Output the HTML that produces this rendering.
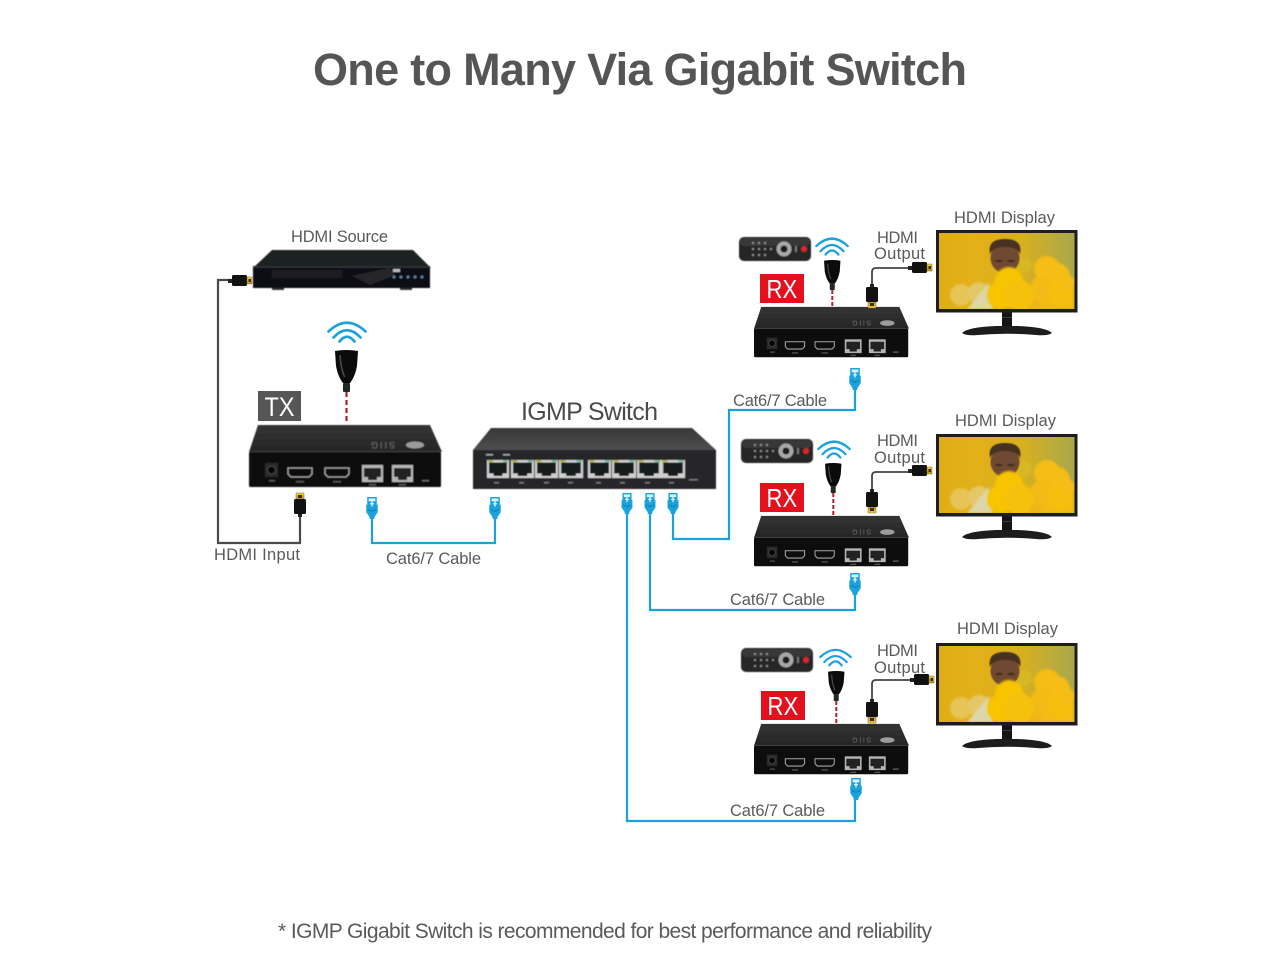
<!DOCTYPE html>
<html><head><meta charset="utf-8"><title>One to Many Via Gigabit Switch</title>
<style>html,body{margin:0;padding:0;background:#fff}svg{display:block}text{font-family:"Liberation Sans",sans-serif;fill:#5a5a5a}</style>
</head><body>
<svg width="1280" height="960" viewBox="0 0 1280 960" xmlns="http://www.w3.org/2000/svg">
<defs>
<linearGradient id="top" x1="0" y1="0" x2="0" y2="1"><stop offset="0" stop-color="#343434"/><stop offset="1" stop-color="#262626"/></linearGradient>
<linearGradient id="swtop" x1="0" y1="0" x2="0" y2="1"><stop offset="0" stop-color="#383838"/><stop offset="1" stop-color="#4e4e4e"/></linearGradient>
<linearGradient id="scr" x1="0" y1="0" x2="1" y2="0"><stop offset="0" stop-color="#e0ae14"/><stop offset=".3" stop-color="#e2b018"/><stop offset=".62" stop-color="#d6b020"/><stop offset="1" stop-color="#a9a84c"/></linearGradient>
<linearGradient id="gold" x1="0" y1="0" x2="0" y2="1"><stop offset="0" stop-color="#f2d34a"/><stop offset="1" stop-color="#b98f1e"/></linearGradient>
<filter id="b1" x="-20%" y="-20%" width="140%" height="140%"><feGaussianBlur stdDeviation="1"/></filter>
<filter id="b0" x="-20%" y="-20%" width="140%" height="140%"><feGaussianBlur stdDeviation=".45"/></filter>

<symbol id="box" viewBox="0 0 193 64" preserveAspectRatio="none" overflow="visible">
<g filter="url(#b0)">
<polygon points="9,1 181,1 193,28 0,28" fill="url(#top)"/>
<rect x="0" y="28" width="192" height="35" rx="1.500" fill="#101010"/>
<rect x="0" y="27" width="192" height="1.200" fill="#3d3d3d"/>
<ellipse cx="166" cy="21" rx="9" ry="3.500" fill="#9c9c9c"/>
<g transform="rotate(180 134 21)"><text x="134" y="24" font-size="9" text-anchor="middle" textLength="24" style="fill:#6e6e6e">SIIG</text></g>
<rect x="16" y="39" width="13" height="14" fill="#2b2b2b"/><circle cx="22.500" cy="46" r="4" fill="#000" stroke="#4a4a4a"/>
<path d="M39 44h24v6l-3 3H42l-3-3z" fill="#0a0a0a" stroke="#a5a5a5" stroke-width="1.300"/>
<path d="M76 44h24v6l-3 3H79l-3-3z" fill="#0a0a0a" stroke="#a5a5a5" stroke-width="1.300"/>
<rect x="113" y="41" width="21" height="17" fill="#b4b4b4"/><path d="M115 44h17v9h-4v3h-9v-3h-4z" fill="#222"/>
<rect x="143" y="41" width="21" height="17" fill="#b4b4b4"/><path d="M145 44h17v9h-4v3h-9v-3h-4z" fill="#222"/>
<rect x="173" y="56" width="7" height="1.500" fill="#666"/>
<rect x="20" y="56" width="6" height="1.500" fill="#555"/><rect x="47" y="57" width="8" height="1.500" fill="#555"/><rect x="84" y="57" width="8" height="1.500" fill="#555"/><rect x="120" y="60" width="7" height="1.500" fill="#555"/><rect x="150" y="60" width="7" height="1.500" fill="#555"/>
</g>
</symbol>

<symbol id="blue" viewBox="0 0 12 23" overflow="visible">
<path d="M1 0h10v8h1v8l-3.500 5v2h-5v-2L0 16V8h1z" fill="#1ba2da"/>
<rect x="2.500" y="1.500" width="7" height="3" fill="#d9f1fb"/>
<path d="M6 4v6M4 7h4" stroke="#e9f8ff" stroke-width="1.300"/>
<path d="M1.500 13l4.500 2 4.500-2" stroke="#0c7eb1" fill="none"/>
</symbol>

<symbol id="plugV" viewBox="0 0 12 24" overflow="visible">
<path d="M2 0h8v6.500H2z" fill="url(#gold)" stroke="#8b6d12" stroke-width=".5"/>
<rect x="4" y="2" width="4" height="3" fill="#3a2f08"/>
<rect x="0" y="6" width="12" height="15" rx="1.500" fill="#111"/><rect x="4" y="21" width="4" height="3" fill="#222"/>
</symbol>

<symbol id="plugH" viewBox="0 0 24 12" overflow="visible">
<rect x="0" y="4" width="5" height="4" fill="#222"/><rect x="4" y="0" width="15" height="11" rx="1.500" fill="#111"/>
<path d="M19 2h5v7h-5z" fill="url(#gold)" stroke="#8b6d12" stroke-width=".5"/><rect x="20.500" y="4" width="2.500" height="3" fill="#3a2f08"/>
</symbol>

<symbol id="remote" viewBox="0 0 72 24" overflow="visible">
<g filter="url(#b0)">
<rect x="0" y="0" width="72" height="24" rx="5" fill="#252525"/><rect x="1" y="1" width="70" height="8" rx="4" fill="#383838"/>
<circle cx="45" cy="12" r="7.500" fill="#a8a8a8"/><circle cx="45" cy="12" r="3.500" fill="#1a1a1a"/>
<circle cx="65" cy="12" r="3" fill="#d9262e"/><rect x="56" y="9" width="2" height="6" fill="#777"/>
<g fill="#8c8c8c"><rect x="13" y="5" width="2" height="2"/><rect x="19" y="5" width="2" height="2"/><rect x="25" y="5" width="2" height="2"/><rect x="13" y="11" width="2" height="2"/><rect x="19" y="11" width="2" height="2"/><rect x="25" y="11" width="2" height="2"/><rect x="31" y="11" width="2" height="2"/><rect x="13" y="17" width="2" height="2"/><rect x="19" y="17" width="2" height="2"/><rect x="25" y="17" width="2" height="2"/></g>
</g>
</symbol>

<symbol id="wifi" viewBox="0 0 40 20" overflow="visible">
<g fill="none" stroke="#1ba2da" stroke-width="2.700" stroke-linecap="round">
<path d="M1.500 9.500Q20-8 38.500 9.500"/>
<path d="M6.500 15.500Q20 1 33.500 15.500"/>
<path d="M12.500 19.500Q20 10 27.500 19.500"/>
</g>
</symbol>

<symbol id="dongle" viewBox="0 0 23 42" overflow="visible">
<path d="M0 1Q11.500-1 23 1L22 16Q20 27 15 33H8Q3 27 1 16z" fill="#0b0b0b"/>
<path d="M5 5Q5.500 17 9.500 27" stroke="#4a4a4a" stroke-width="1.600" fill="none"/>
<rect x="8" y="33" width="7" height="9" rx="1" fill="#1f2a22"/>
</symbol>

<symbol id="mon" viewBox="0 0 142 106" overflow="visible">
<rect x="66" y="80" width="10" height="19" fill="#151515"/>
<rect x="66" y="87" width="10" height="1" fill="#3a3a3a"/>
<path d="M26 103Q32 97 60 96H82Q110 97 116 103Q112 106 100 105Q71 102.500 42 105Q30 106 26 103z" fill="#1d1d1d"/>
<rect x="0" y="0" width="141.500" height="82.500" fill="#1d1d1d"/>
<svg x="3" y="3" width="135.500" height="76" viewBox="0 0 135.500 76">
<rect width="135.500" height="76" fill="url(#scr)"/>
<g filter="url(#b1)">
<circle cx="85" cy="32" r="8" fill="#d8b820"/>
<circle cx="22" cy="62" r="11" fill="#e6c456"/><circle cx="40" cy="60" r="11" fill="#e4c766"/>
<polygon points="28,76 50,50 54,76" fill="#ddd6a8"/>
<rect x="85" y="60" width="50" height="16" fill="#f4bb12"/>
<circle cx="95" cy="65" r="11" fill="#efb515"/>
<circle cx="108" cy="36" r="13" fill="#f5bd12"/><circle cx="118" cy="43" r="13" fill="#f5bd12"/><circle cx="105" cy="56" r="14" fill="#f4bb14"/><circle cx="122" cy="60" r="13" fill="#f6be10"/><circle cx="128" cy="50" r="8" fill="#f5bd12"/>
</g>
<g filter="url(#b0)">
<ellipse cx="66" cy="25" rx="14.500" ry="15" fill="#6f4a30"/>
<path d="M51 21Q48 6 66 6Q84 6 81 21Q78 14 66 14Q54 14 51 21z" fill="#473021"/>
<ellipse cx="60" cy="28" rx="4" ry="1.300" fill="#3f2a1c"/><ellipse cx="72" cy="28" rx="4" ry="1.300" fill="#3f2a1c"/>
</g>
<g filter="url(#b1)">
<circle cx="70" cy="48" r="14" fill="#f7c400"/><circle cx="62" cy="62" r="14" fill="#f8c402"/><circle cx="80" cy="62" r="15" fill="#f6c108"/>
</g>
</svg>
</symbol>

<symbol id="port" viewBox="0 0 22 18" preserveAspectRatio="none" overflow="visible">
<rect x="0" y="0" width="22" height="18" fill="#cfcfcf"/><path d="M2 2.500h18v11h-4.500v2.500h-9v-2.500H2z" fill="#171b1d"/>
<rect x="1" y="0" width="5" height="2.500" fill="#b3b05e"/><rect x="16" y="0" width="5" height="2.500" fill="#7fb8a0"/>
</symbol>
</defs>

<rect width="1280" height="960" fill="#fff"/>

<text x="313" y="85" font-size="45" font-weight="700" textLength="654" style="fill:#555">One to Many Via Gigabit Switch</text>

<!-- cables -->
<g fill="none" stroke-width="2.200" stroke-linejoin="miter">
<path d="M232 280H218V543H300V515" stroke="#4a4a4a"/>
<path d="M372 516V543H495V516" stroke="#1ba2da"/>
<path d="M673 511V539H729V410H855V388" stroke="#1ba2da"/>
<path d="M650 511V610H855V593" stroke="#1ba2da"/>
<path d="M627 511V821H855V798" stroke="#1ba2da"/>
</g>

<!-- DVD player -->
<g filter="url(#b0)">
<polygon points="272,250 413,250 431,268 253,268" fill="#1f2022"/>
<rect x="253" y="266" width="177" height="22" fill="#101114"/>
<path d="M253 267 H430" stroke="#3d3e42"/>
<rect x="272" y="270" width="70" height="8" fill="#1c1d20"/>
<path d="M352 276 L390 268 L395 275 L370 285z" fill="#25262a"/>
<rect x="393" y="269" width="7" height="3" fill="#bbb"/>
<g fill="#5a7fa6"><circle cx="394" cy="277" r="1.500"/><circle cx="401" cy="277" r="1.500"/><circle cx="408" cy="277" r="1.500"/><circle cx="415" cy="277" r="1.500"/><circle cx="422" cy="277" r="1.500"/></g>
<rect x="272" y="288" width="12" height="2" fill="#333"/><rect x="400" y="288" width="12" height="2" fill="#333"/>
</g>
<use href="#plugH" x="228" y="275" width="24" height="12"/>

<!-- TX -->
<use href="#wifi" x="327" y="322" width="40" height="20"/>
<use href="#dongle" x="335" y="350" width="23" height="42"/>
<path d="M346.500 392V422" stroke="#b5202c" stroke-width="2.200" stroke-dasharray="5 3"/>
<rect x="258" y="391" width="43" height="30" fill="#565656"/>
<text transform="translate(264.500 416) scale(.87 1)" font-size="27" style="fill:#fff">TX</text>
<use href="#box" x="249" y="424" width="193" height="64"/>
<use href="#plugV" x="294" y="493" width="12" height="24"/>
<use href="#blue" x="366" y="497" width="12" height="22"/>
<use href="#blue" x="489" y="497" width="12" height="22"/>

<!-- Switch -->
<g filter="url(#b0)">
<polygon points="491,428 692,428 716,450 473,450" fill="url(#swtop)"/>
<rect x="473" y="450" width="243" height="39" fill="#26282a"/>
<use href="#port" x="487" y="460" width="22" height="18"/><use href="#port" x="511" y="460" width="23" height="18"/><use href="#port" x="535" y="460" width="23" height="18"/><use href="#port" x="559" y="460" width="24" height="18"/>
<use href="#port" x="588" y="460" width="23" height="18"/><use href="#port" x="612" y="460" width="24" height="18"/><use href="#port" x="637" y="460" width="24" height="18"/><use href="#port" x="661" y="460" width="24" height="18"/>
<g fill="#777"><rect x="494" y="482" width="5" height="1.500"/><rect x="519" y="482" width="5" height="1.500"/><rect x="544" y="482" width="5" height="1.500"/><rect x="568" y="482" width="5" height="1.500"/><rect x="596" y="482" width="5" height="1.500"/><rect x="620" y="482" width="5" height="1.500"/><rect x="645" y="482" width="5" height="1.500"/><rect x="669" y="482" width="5" height="1.500"/><rect x="689" y="479" width="9" height="1.500"/></g>
<g fill="#9aa"><rect x="486" y="454" width="7" height="1.500"/><rect x="503" y="454" width="7" height="1.500"/></g>
</g>
<use href="#blue" x="621" y="493" width="12" height="21"/>
<use href="#blue" x="644" y="493" width="12" height="21"/>
<use href="#blue" x="667" y="493" width="12" height="21"/>

<!-- RX 1 -->
<use href="#remote" x="739" y="237" width="72" height="24"/>
<use href="#wifi" x="815" y="238" width="34" height="17"/>
<use href="#dongle" x="824" y="260" width="16.500" height="30"/>
<path d="M832.300 290V306" stroke="#b5202c" stroke-width="2" stroke-dasharray="4 2"/>
<rect x="760" y="274" width="44" height="29" fill="#e3101d"/>
<text transform="translate(766.500 298) scale(.85 1)" font-size="26" style="fill:#fff">RX</text>
<use href="#box" x="754" y="306" width="155" height="52"/>
<path d="M872 286V272Q872 268 876 268H912" fill="none" stroke="#444" stroke-width="1.800"/>
<use href="#plugV" x="866" y="284" width="12" height="24" transform="rotate(180 872 296)"/>
<use href="#plugH" x="908" y="262" width="24" height="12"/>
<use href="#mon" x="936" y="230" width="142" height="106"/>
<use href="#blue" x="849" y="368" width="12" height="22"/>

<!-- RX 2 -->
<use href="#remote" x="741" y="439" width="72" height="24"/>
<use href="#wifi" x="817" y="441" width="34" height="17"/>
<use href="#dongle" x="825" y="463" width="16.500" height="30"/>
<path d="M833.300 493V515" stroke="#b5202c" stroke-width="2" stroke-dasharray="4 2"/>
<rect x="760" y="483" width="44" height="29" fill="#e3101d"/>
<text transform="translate(766.500 507) scale(.85 1)" font-size="26" style="fill:#fff">RX</text>
<use href="#box" x="754" y="515" width="155" height="52"/>
<path d="M872 492V476Q872 472 876 472H912" fill="none" stroke="#444" stroke-width="1.800"/>
<use href="#plugV" x="866" y="489" width="12" height="24" transform="rotate(180 872 501)"/>
<use href="#plugH" x="908" y="465" width="24" height="12"/>
<use href="#mon" x="936" y="434" width="142" height="106"/>
<use href="#blue" x="849" y="573" width="12" height="22"/>

<!-- RX 3 -->
<use href="#remote" x="741" y="648" width="72" height="24"/>
<use href="#wifi" x="819" y="649" width="33" height="17"/>
<use href="#dongle" x="828" y="671" width="16.500" height="30"/>
<path d="M836.300 701V723" stroke="#b5202c" stroke-width="2" stroke-dasharray="4 2"/>
<rect x="761" y="691" width="44" height="29" fill="#e3101d"/>
<text transform="translate(767.500 715) scale(.85 1)" font-size="26" style="fill:#fff">RX</text>
<use href="#box" x="754" y="723" width="155" height="52"/>
<path d="M872 702V684Q872 680 876 680H914" fill="none" stroke="#444" stroke-width="1.800"/>
<use href="#plugV" x="866" y="699" width="12" height="24" transform="rotate(180 872 711)"/>
<use href="#plugH" x="910" y="674" width="24" height="12"/>
<use href="#mon" x="936" y="643" width="142" height="106"/>
<use href="#blue" x="850" y="778" width="12" height="22"/>

<!-- labels -->
<g font-size="16.500">
<text x="291" y="242" textLength="97">HDMI Source</text>
<text x="214" y="560" textLength="86">HDMI Input</text>
<text x="386" y="564" textLength="95">Cat6/7 Cable</text>
<text x="733" y="406" textLength="94">Cat6/7 Cable</text>
<text x="730" y="605" textLength="95">Cat6/7 Cable</text>
<text x="730" y="816" textLength="95">Cat6/7 Cable</text>
<text x="954" y="223" textLength="101">HDMI Display</text>
<text x="955" y="426" textLength="101">HDMI Display</text>
<text x="957" y="634" textLength="101">HDMI Display</text>
<text x="877" y="243" textLength="41">HDMI</text><text x="874" y="259" textLength="51">Output</text>
<text x="877" y="446" textLength="41">HDMI</text><text x="874" y="463" textLength="51">Output</text>
<text x="877" y="656" textLength="41">HDMI</text><text x="874" y="673" textLength="51">Output</text>
</g>
<text x="521" y="420" font-size="25" textLength="137" style="fill:#4a4a4a">IGMP Switch</text>
<text x="278" y="938" font-size="21" textLength="654">* IGMP Gigabit Switch is recommended for best performance and reliability</text>
</svg>
</body></html>
